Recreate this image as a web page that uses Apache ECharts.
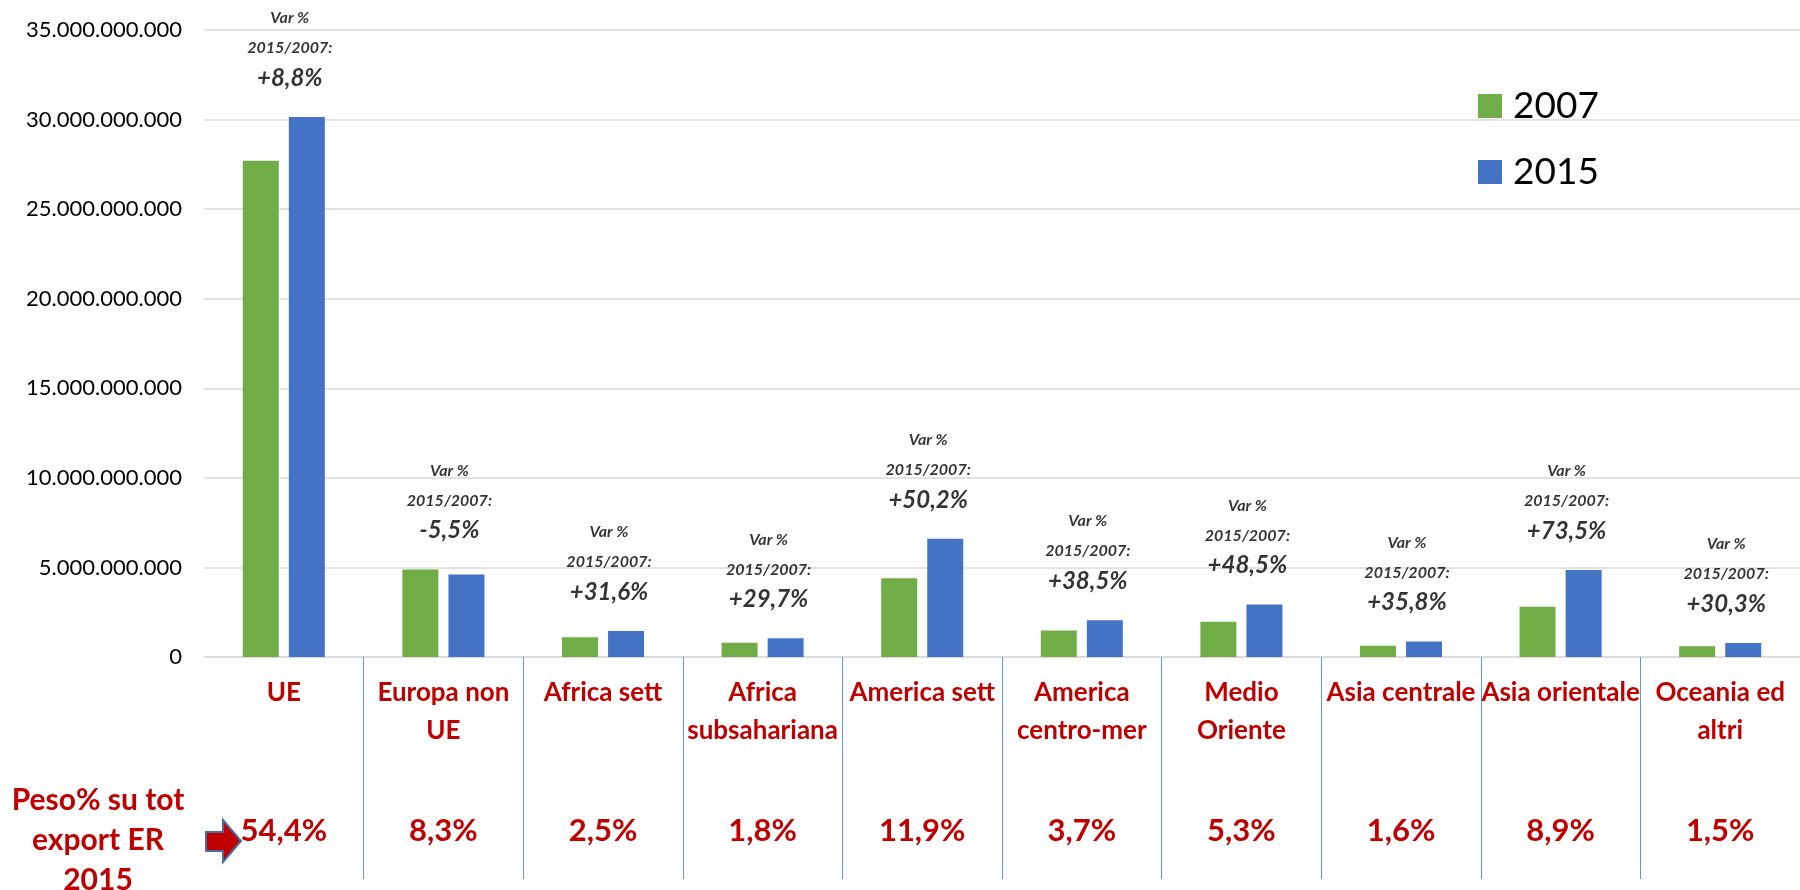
<!DOCTYPE html>
<html>
<head>
<meta charset="utf-8">
<style>
  html, body { margin: 0; padding: 0; background: #fff; }
  #chart { width: 1800px; height: 890px; }
</style>
<script src="https://cdn.jsdelivr.net/npm/echarts@6/dist/echarts.min.js"></script>
</head>
<body>
<div id="chart"></div>
<script>
// dati export per area geografica (euro)
const categories = ['UE', 'Europa non\nUE', 'Africa sett', 'Africa\nsubsahariana', 'America sett',
    'America\ncentro-mer', 'Medio\nOriente', 'Asia centrale', 'Asia orientale', 'Oceania ed\naltri'];
const export2007 = [27.7e9, 4.88e9, 1.1e9, 0.8e9, 4.4e9, 1.48e9, 1.97e9, 0.63e9, 2.8e9, 0.6e9];
const export2015 = [30.14e9, 4.61e9, 1.45e9, 1.04e9, 6.6e9, 2.05e9, 2.93e9, 0.86e9, 4.86e9, 0.78e9];
const varPct = ['+8,8%', '-5,5%', '+31,6%', '+29,7%', '+50,2%', '+38,5%', '+48,5%', '+35,8%', '+73,5%', '+30,3%'];
const peso2015 = ['54,4%', '8,3%', '2,5%', '1,8%', '11,9%', '3,7%', '5,3%', '1,6%', '8,9%', '1,5%'];
const yTicks = { min: 0, max: 35e9, step: 5e9 };

const red = '#C00000';
const font = 'Lato';

const fmt = (v) => String(v).replace(/\B(?=(\d{3})+(?!\d))/g, '.');

const chart = echarts.init(document.getElementById('chart'));

const option = {
    animation: false,
    backgroundColor: '#fff',
    textStyle: { fontFamily: font },
    grid: { left: 204, right: -11, top: 30, bottom: 233 },
    legend: {
        data: ['2007', '2015'],
        orient: 'vertical',
        left: 1473,
        top: 80,
        itemWidth: 24,
        itemHeight: 24,
        itemGap: 24,
        icon: 'rect',
        textStyle: { fontSize: 37, fontFamily: font, color: '#000', lineHeight: 42, padding: [0, 0, 0, 6] }
    },
    xAxis: [{
        type: 'category',
        data: categories,
        axisLine: { lineStyle: { color: '#D9D9D9', width: 1.5 } },
        axisTick: {
            show: true,
            interval: (i) => i > 0,
            length: 222,
            lineStyle: { color: '#5B9BD5', width: 1 }
        },
        axisLabel: {
            interval: 0,
            color: red,
            fontWeight: 'bold',
            fontSize: 26,
            lineHeight: 38,
            margin: 17,
            fontFamily: font
        }
    }, {
        type: 'category',
        data: peso2015,
        position: 'bottom',
        offset: 150,
        axisLine: { show: false },
        axisTick: { show: false },
        axisLabel: {
            interval: 0,
            color: red,
            fontWeight: 'bold',
            fontSize: 31,
            lineHeight: 34,
            margin: 7,
            fontFamily: font
        }
    }],
    yAxis: {
        type: 'value',
        min: yTicks.min,
        max: yTicks.max,
        interval: yTicks.step,
        axisLine: { show: false },
        axisTick: { show: false },
        splitLine: { lineStyle: { color: '#D9D9D9', width: 1.5 } },
        axisLabel: { fontSize: 22, color: '#000', margin: 22, fontFamily: font, formatter: fmt }
    },
    series: [{
        name: '2007',
        type: 'bar',
        data: export2007,
        barWidth: 36,
        barGap: '28%',
        itemStyle: { color: '#70AD47' }
    }, {
        name: '2015',
        type: 'bar',
        data: export2015,
        barWidth: 36,
        itemStyle: { color: '#4472C4' }
    }, {
        // etichette variazione % sopra ogni coppia di barre
        name: 'var',
        type: 'scatter',
        symbolSize: 0,
        data: export2007.map((v, i) => Math.max(v, export2015[i])),
        label: {
            show: true,
            position: 'top',
            distance: 24,
            offset: [6, 0],
            formatter: (p) => '{a|Var %}\n{a|2015/2007:}\n{b|' + varPct[p.dataIndex] + '}',
            rich: {
                a: { fontSize: 16, fontWeight: 'bold', fontStyle: 'italic', color: '#000', lineHeight: 30, fontFamily: font },
                b: { fontSize: 24, fontWeight: 'bold', fontStyle: 'italic', color: '#000', lineHeight: 30, fontFamily: font }
            }
        }
    }],
    graphic: [{
        type: 'text',
        x: 98,
        y: 780,
        style: {
            text: 'Peso% su tot\nexport ER\n2015',
            font: 'bold 30px ' + font,
            fill: red,
            align: 'center',
            verticalAlign: 'top',
            lineHeight: 40
        }
    }, {
        type: 'polygon',
        shape: { points: [[206, 832], [223, 832], [223, 820], [241, 841], [223, 862], [223, 851], [206, 851]] },
        style: { fill: red, stroke: '#41719C', lineWidth: 2 }
    }]
};

chart.setOption(option);
window.onresize = () => {
    chart.resize();
};
</script>
</body>
</html>
